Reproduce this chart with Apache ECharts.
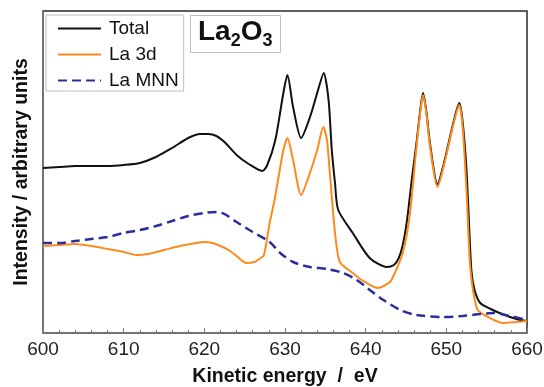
<!DOCTYPE html>
<html>
<head>
<meta charset="utf-8">
<script src="https://cdn.jsdelivr.net/npm/echarts@6/dist/echarts.min.js"></script>
<style>
  html, body { margin: 0; padding: 0; background: #fff; }
  #chart { width: 544px; height: 387px; }
</style>
</head>
<body>
<div id="chart"></div>
<script>
// Auger spectrum of La2O3: total signal, La 3d component and La MNN background
const totalEnergy = [600, 602, 604, 606, 608, 610, 612, 614, 616, 618, 619.5, 620.5, 621.5, 622.5, 624, 625.5, 627.2, 627.8, 628.8, 629.8, 630.3, 631.0, 632.0, 633.1, 634.1, 634.8, 635.4, 635.8, 636.2, 636.6, 638.4, 640.5, 642.6, 643.5, 644.1, 644.6, 645.1, 645.7, 646.3, 646.8, 647.1, 647.5, 648.0, 648.9, 649.8, 650.8, 651.6, 652.0, 652.5, 653.1, 653.5, 654.2, 655.5, 656.6, 658.7, 660];
const totalIntensity = [165, 166, 167, 167, 167, 168, 170, 176, 185, 195, 199, 199, 197, 191, 178, 169, 162, 168, 193, 240, 258, 226, 195, 216, 243, 260, 233, 183, 150, 123, 100, 75, 66, 68, 75, 88, 111, 152, 190, 225, 240, 223, 188, 149, 173, 208, 230, 213, 163, 63, 43, 30, 24, 20, 14, 12];

const la3dEnergy = [600, 602, 604, 606, 608, 610, 611.6, 613, 615, 617, 619, 620, 621, 622, 623, 624, 625.2, 626.2, 627, 627.4, 628.1, 628.7, 629.2, 629.8, 630.3, 631.0, 632.0, 633.0, 634.0, 634.75, 635.2, 635.6, 636.2, 636.8, 638.4, 639.5, 641.5, 643.0, 643.5, 644.6, 645.5, 646.2, 646.8, 647.1, 647.5, 648.0, 648.9, 649.8, 650.8, 651.6, 652.0, 652.5, 652.9, 653.3, 653.9, 655.4, 657, 658.7, 660];
const la3dIntensity = [87, 88, 89, 87, 84, 81, 78, 79, 83, 87, 90, 91, 90, 87, 83, 77, 70, 71, 75, 78, 110, 133, 156, 183, 195, 173, 138, 158, 183, 206, 193, 156, 100, 71, 60, 53, 45, 51, 58, 80, 120, 178, 223, 238, 221, 185, 146, 171, 206, 228, 208, 143, 73, 43, 23, 15, 10, 11, 12];

const mnnEnergy = [600, 602, 604, 606, 608, 610, 612, 614, 616, 618, 620, 621.5, 622.5, 624, 626, 628.1, 629.4, 631, 633.1, 635.2, 637.2, 638.9, 640.5, 642.2, 644.3, 646.3, 649.6, 652, 654.2, 655.8, 657.9, 660];
const mnnIntensity = [90, 90, 92, 94, 96, 100, 103, 107, 112, 117, 120, 121, 119, 111, 101, 91, 80, 71, 66, 64, 60, 53, 43, 33, 23, 18, 16, 17, 19, 20, 17, 13];

const seriesNames = ['Total', 'La 3d', 'La MNN'];

function pairs(xs, ys) {
  return xs.map((x, i) => [x, ys[i]]);
}

const FONT = 'Liberation Sans, Arial, sans-serif';
const chart = echarts.init(document.getElementById('chart'), null, { renderer: 'canvas' });

chart.setOption({
  animation: false,
  backgroundColor: '#ffffff',
  grid: {
    left: 43, right: 17, top: 11, bottom: 54,
    outerBoundsMode: 'none',
    show: true, borderColor: '#2a2a2a', borderWidth: 1.5, backgroundColor: 'transparent'
  },
  title: {
    left: 190, top: 15,
    padding: [3, 8, 3, 8],
    borderColor: '#bdbdbd', borderWidth: 1, backgroundColor: '#fff',
    text: '{a|La}{s|2}{a|O}{s|3}',
    textStyle: {
      rich: {
        a: { fontFamily: FONT, fontSize: 28, fontWeight: 'bold', color: '#111', lineHeight: 32, verticalAlign: 'top' },
        s: { fontFamily: FONT, fontSize: 18, fontWeight: 'bold', color: '#111', lineHeight: 20, verticalAlign: 'bottom' }
      }
    }
  },
  legend: {
    orient: 'vertical',
    left: 46, top: 15,
    padding: [4, 5, 1, 11],
    itemGap: 7,
    itemWidth: 43, itemHeight: 14,
    borderColor: '#bdbdbd', borderWidth: 1, backgroundColor: '#fff',
    itemStyle: { opacity: 0 },
    data: seriesNames,
    textStyle: { fontFamily: FONT, fontSize: 19, color: '#111', padding: [0, 0, 0, 3] }
  },
  xAxis: {
    type: 'value', min: 600, max: 660, interval: 10,
    name: 'Kinetic energy  /  eV',
    nameLocation: 'middle', nameGap: 34,
    nameTextStyle: { fontFamily: FONT, fontSize: 19.5, fontWeight: 'bold', color: '#111' },
    axisLine: { show: true, lineStyle: { color: '#7a7a7a', width: 1.5 } },
    axisTick: { show: true, inside: true, length: 5, lineStyle: { color: '#7a7a7a', width: 1 } },
    minorTick: { show: true, splitNumber: 5, length: 3, lineStyle: { color: '#7a7a7a', width: 1 } },
    axisLabel: { margin: 7, fontFamily: FONT, fontSize: 19, color: '#222' },
    splitLine: { show: false }
  },
  yAxis: {
    type: 'value', min: 0, max: 322,
    name: 'Intensity / arbitrary units',
    nameLocation: 'middle', nameGap: 11,
    nameTextStyle: { fontFamily: FONT, fontSize: 19.5, fontWeight: 'bold', color: '#111' },
    axisLine: { show: true, lineStyle: { color: '#7a7a7a', width: 1.5 } },
    axisTick: { show: false },
    axisLabel: { show: false },
    splitLine: { show: false }
  },
  series: [
    {
      name: 'Total', type: 'line', data: pairs(totalEnergy, totalIntensity),
      symbol: 'none', smooth: 0.25, z: 2,
      lineStyle: { color: '#111111', width: 2 },
      itemStyle: { color: '#111111' }
    },
    {
      name: 'La 3d', type: 'line', data: pairs(la3dEnergy, la3dIntensity),
      symbol: 'none', smooth: 0.25, z: 3,
      lineStyle: { color: '#ff8a1c', width: 2 },
      itemStyle: { color: '#ff8a1c' }
    },
    {
      name: 'La MNN', type: 'line', data: pairs(mnnEnergy, mnnIntensity),
      symbol: 'none', smooth: 0.3, z: 4,
      lineStyle: { color: '#2b2f9a', width: 2.5, type: [9, 5] },
      itemStyle: { color: '#2b2f9a' }
    }
  ]
});
</script>
</body>
</html>
